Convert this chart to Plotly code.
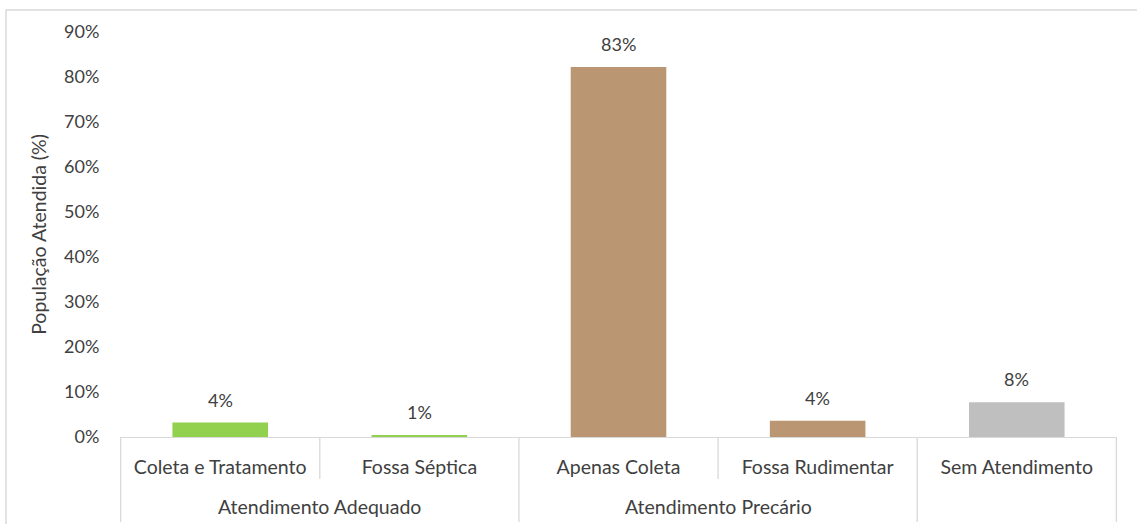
import plotly.graph_objects as go

categories = ["Coleta e Tratamento", "Fossa Séptica", "Apenas Coleta", "Fossa Rudimentar", "Sem Atendimento"]
groups = ["Atendimento Adequado", "Atendimento Adequado", "Atendimento Precário", "Atendimento Precário", ""]
values = [3.2, 0.45, 82.2, 3.6, 7.7]
value_labels = ["4%", "1%", "83%", "4%", "8%"]
colors = ["#92D050", "#92D050", "#BB9672", "#BB9672", "#BFBFBF"]
y_ticks = [0, 10, 20, 30, 40, 50, 60, 70, 80, 90]

FONT = "Lato"
FS = 18      # numbers
FSW = 19.5   # words
TXT = "#404040"
LINE = "#D9D9D9"

fig = go.Figure()
fig.add_trace(go.Bar(x=categories, y=values, marker=dict(color=colors, line=dict(width=0)),
                     hoverinfo="skip"))

# value labels
for c, v, t in zip(categories, values, value_labels):
    fig.add_annotation(x=c, y=v, text=t, showarrow=False, yshift=23, yanchor="middle",
                       font=dict(family=FONT, size=FS, color=TXT))

H_PLOT = 405.0
short_y = -(479 - 437) / H_PLOT
full_y = -(522 - 437) / H_PLOT

# dividers
n = len(categories)
for i in range(n + 1):
    pos = i - 0.5
    if 0 < i < n and groups[i - 1] == groups[i] and groups[i] != "":
        y1 = short_y
    else:
        y1 = full_y
    fig.add_shape(type="line", xref="x", yref="paper", x0=pos, x1=pos, y0=0, y1=y1,
                  line=dict(color=LINE, width=1.3))

# group labels
seen = []
for g in groups:
    if g and g not in seen:
        seen.append(g)
for g in seen:
    idx = [i for i, gg in enumerate(groups) if gg == g]
    fig.add_annotation(x=sum(idx) / len(idx), xref="x", y=-(507 - 437) / H_PLOT, yref="paper",
                       text=g, showarrow=False, yanchor="middle",
                       font=dict(family=FONT, size=FSW, color=TXT))

# outer chart border
fig.add_shape(type="rect", xref="paper", yref="paper",
              x0=(6 - 120) / 997, x1=(1145 - 120) / 997, y0=-0.4, y1=(437 - 10) / H_PLOT,
              line=dict(color=LINE, width=1.5), layer="below")

fig.update_layout(
    width=1137, height=524,
    margin=dict(l=120, r=20, t=32, b=87),
    plot_bgcolor="white", paper_bgcolor="white",
    bargap=0.52,
    showlegend=False,
    font=dict(family=FONT, size=FS, color=TXT),
    xaxis=dict(type="category", showline=True, linecolor=LINE, linewidth=1.3,
               ticks="outside", ticklen=12, tickcolor="rgba(0,0,0,0)",
               tickfont=dict(family=FONT, size=FSW, color=TXT),
               showgrid=False, zeroline=False, fixedrange=True),
    yaxis=dict(range=[0, 90], tickvals=y_ticks, ticktext=[f"{t}%" for t in y_ticks],
               showline=False, showgrid=False, zeroline=False,
               ticks="outside", ticklen=16, tickcolor="rgba(0,0,0,0)",
               tickfont=dict(family=FONT, size=FS, color=TXT),
               title=dict(text="População Atendida (%)", standoff=12,
                          font=dict(family=FONT, size=FSW, color=TXT)),
               automargin=False),
)

fig.write_html("out.html")
